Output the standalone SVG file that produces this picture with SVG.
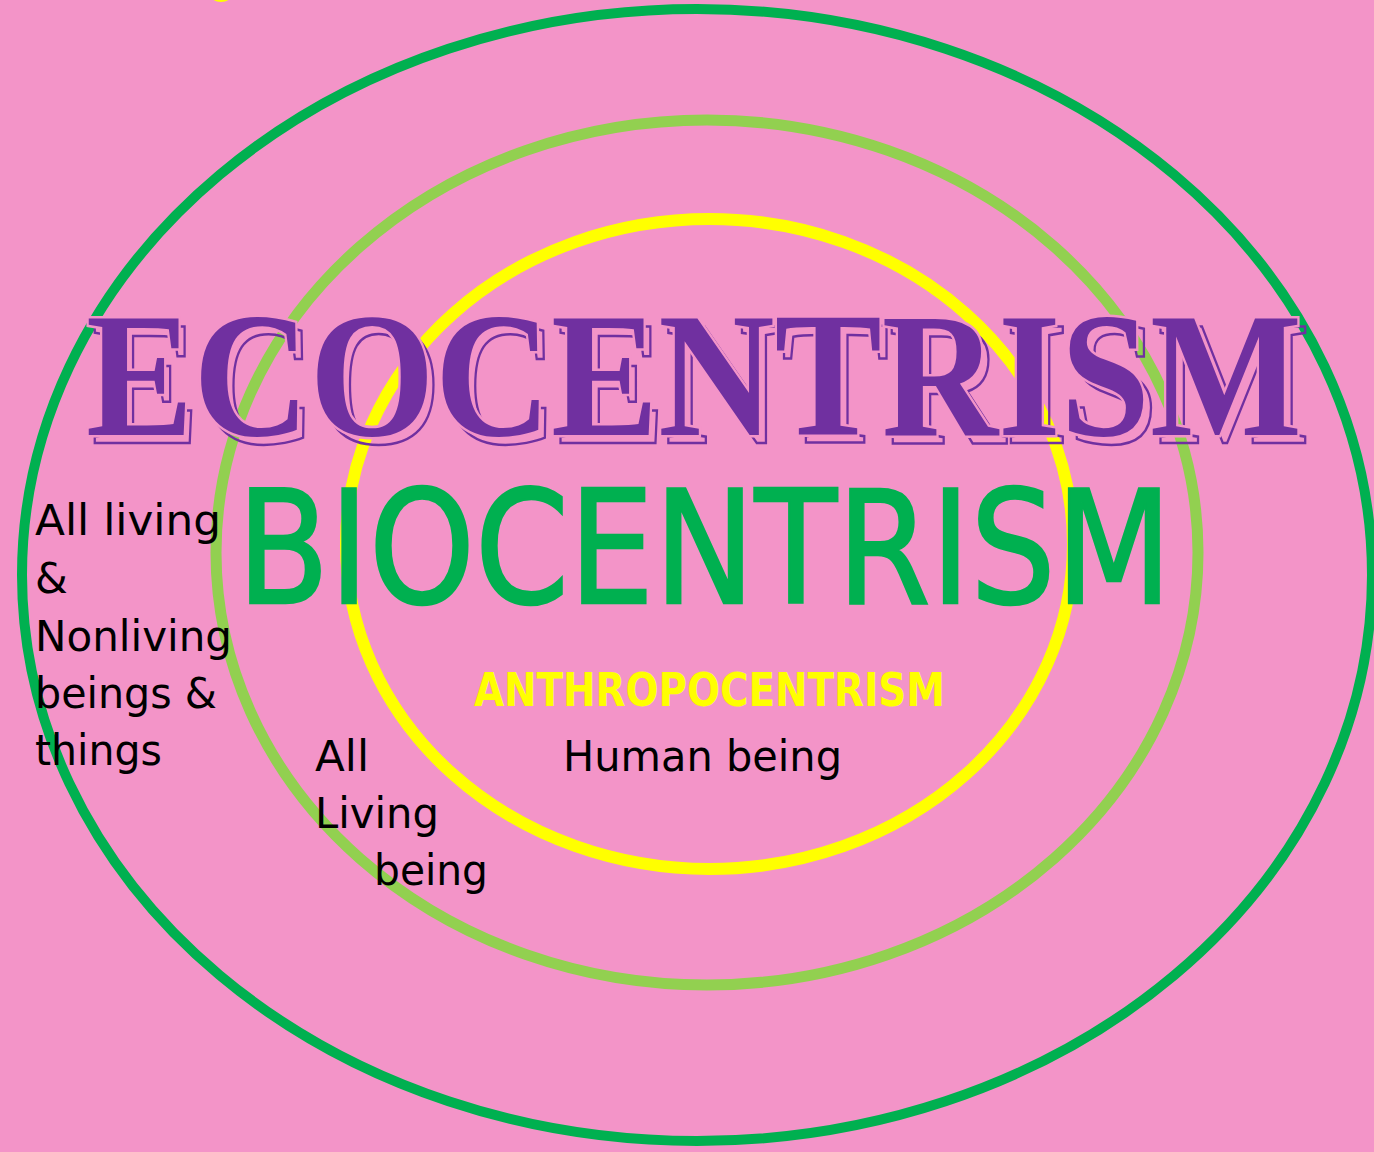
<svg xmlns="http://www.w3.org/2000/svg" width="1374" height="1152" viewBox="0 0 1374 1152">
  <style>
    .ring { fill: none; }
    .body { font-family: "DejaVu Sans", "Liberation Sans", sans-serif; fill: #000000; font-size: 42px; }
    .eco { font-family: "Liberation Serif", "DejaVu Serif", serif; font-weight: bold; font-size: 178px; }
  </style>
  <rect x="0" y="0" width="1374" height="1152" fill="#F394C8"/>
  <g id="top-mark">
    <ellipse cx="221" cy="-9" rx="13" ry="11" fill="#FFFF00"/>
  </g>
  <g id="ecocentrism-ring">
    <ellipse class="ring" cx="697" cy="575" rx="675" ry="566" stroke="#00B050" stroke-width="10"/>
  </g>
  <g id="biocentrism-ring">
    <ellipse class="ring" cx="707" cy="552.5" rx="491" ry="432.5" stroke="#92D050" stroke-width="11"/>
  </g>
  <g id="anthropocentrism-ring">
    <ellipse class="ring" cx="709.5" cy="544" rx="363.5" ry="325" stroke="#FFFF00" stroke-width="12"/>
  </g>
  <g id="ecocentrism-title">
    <text class="eco" x="92" y="443" textLength="1218" lengthAdjust="spacingAndGlyphs" fill="none" stroke="#7030A0" stroke-width="2.5">ECOCENTRISM</text>
    <text class="eco" x="86" y="435" textLength="1216" lengthAdjust="spacingAndGlyphs" fill="#7030A0" stroke="#F394C8" stroke-width="5" paint-order="stroke">ECOCENTRISM</text>
  </g>
  <g id="biocentrism-title">
    <text x="237" y="603" font-family="DejaVu Sans, Liberation Sans, sans-serif" font-size="157" fill="#00B050" stroke="#00B050" stroke-width="2.5" textLength="935" lengthAdjust="spacingAndGlyphs">BIOCENTRISM</text>
  </g>
  <g id="anthropocentrism-title">
    <text x="474" y="706" font-family="DejaVu Sans, Liberation Sans, sans-serif" font-weight="bold" font-size="46" fill="#FFFF00" textLength="471" lengthAdjust="spacingAndGlyphs">ANTHROPOCENTRISM</text>
  </g>
  <g id="label-ecocentrism">
    <text class="body" x="35" y="535" textLength="186" lengthAdjust="spacingAndGlyphs">All living</text>
    <text class="body" x="35" y="593">&amp;</text>
    <text class="body" x="35" y="651" textLength="197" lengthAdjust="spacingAndGlyphs">Nonliving</text>
    <text class="body" x="35" y="708" textLength="182" lengthAdjust="spacingAndGlyphs">beings &amp;</text>
    <text class="body" x="35" y="765" textLength="127" lengthAdjust="spacingAndGlyphs">things</text>
  </g>
  <g id="label-biocentrism">
    <text class="body" x="315" y="771" textLength="54" lengthAdjust="spacingAndGlyphs">All</text>
    <text class="body" x="315" y="828" textLength="124" lengthAdjust="spacingAndGlyphs">Living</text>
    <text class="body" x="374" y="885" textLength="114" lengthAdjust="spacingAndGlyphs">being</text>
  </g>
  <g id="label-anthropocentrism">
    <text class="body" x="563" y="771" textLength="279" lengthAdjust="spacingAndGlyphs">Human being</text>
  </g>
  <g id="connectors"></g>
</svg>
